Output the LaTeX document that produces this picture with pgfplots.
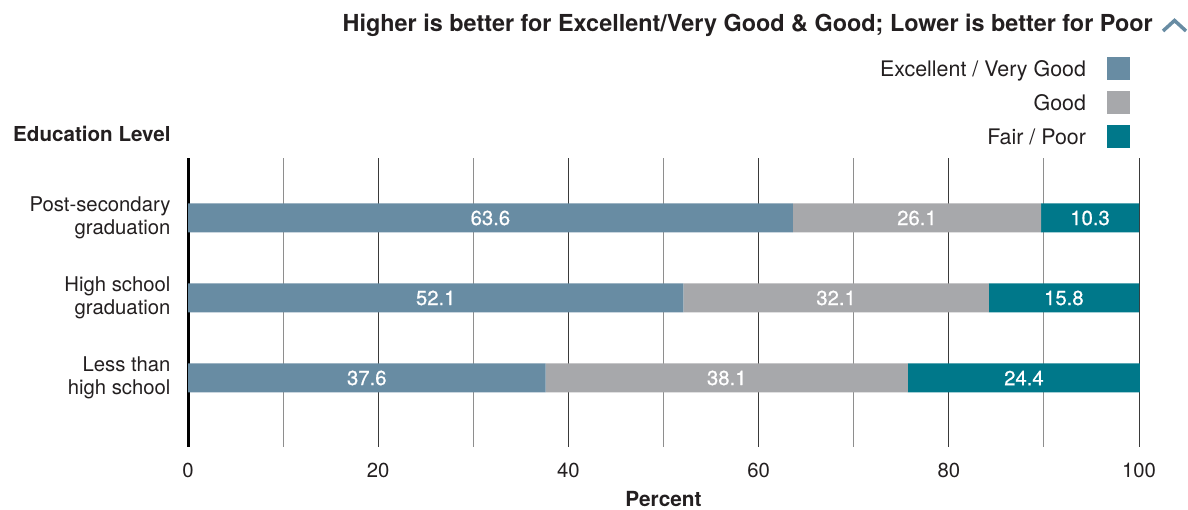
\documentclass[border=0pt]{standalone}
\usepackage{fontspec}
\setmainfont{TeX Gyre Heros}
\usepackage{pgfplots}
\usepackage{pgfplotstable}
\pgfplotsset{compat=1.18}

\definecolor{exc}{HTML}{688CA3}
\definecolor{good}{HTML}{A7A8AB}
\definecolor{poor}{HTML}{00788A}
\definecolor{txt}{HTML}{231F20}
\definecolor{gridmaj}{HTML}{3A3A3A}
\definecolor{gridmin}{HTML}{8E8E8E}

% self-rated health by education level (percent)
\pgfplotstableread{
c ex go po
0 37.6 38.1 24.4
1 52.1 32.1 15.8
2 63.6 26.1 10.3
}\healthdata

\begin{document}
\begin{tikzpicture}[x=1pt,y=1pt]
\useasboundingbox (0,0) rectangle (1188,510);

% heading and collapse chevron
\node[anchor=base east, inner sep=0pt, text=txt,
      font=\fontsize{23.4}{27}\selectfont\bfseries]
  at (1153,478) {Higher is better for Excellent/Very Good \& Good; Lower is better for Poor};
\draw[exc, line width=3.5pt, line cap=butt, line join=miter]
  (1163,479) -- (1174.5,489.5) -- (1186,479);

% group heading for the categories
\node[anchor=base west, inner sep=0pt, text=txt,
      font=\fontsize{20.6}{24}\selectfont\bfseries]
  at (13,368) {Education Level};

\begin{axis}[
  at={(188pt,63pt)}, anchor=south west,
  scale only axis, width=951pt, height=289pt,
  xbar stacked, bar width=29pt,
  xmin=0, xmax=100, ymin=-0.8625, ymax=2.75,
  xtick={0,20,...,100}, minor xtick={10,30,...,90},
  xmajorgrids, xminorgrids,
  major grid style={draw=gridmaj, line width=1pt},
  minor grid style={draw=gridmin, line width=1pt},
  major tick length=0pt, minor tick length=0pt,
  tick style={draw=none},
  axis line style={draw=none},
  ytick={0,1,2},
  yticklabels={Less than\\high school, High school\\graduation, Post-secondary\\graduation},
  yticklabel style={align=right, text=txt, xshift=-14pt,
    font=\fontsize{20.3}{22.5}\selectfont},
  xticklabel style={anchor=base, yshift=-31pt, text=txt,
    font=\fontsize{20.3}{24}\selectfont},
  /pgf/number format/assume math mode=true,
  xlabel={Percent},
  xlabel style={at={(axis description cs:0.5,0)}, anchor=base, yshift=-59.5pt,
    text=txt, font=\fontsize{20.8}{24}\selectfont\bfseries},
  nodes near coords={\pgfmathprintnumber[fixed,fixed zerofill,precision=1]{\pgfplotspointmeta}},
  every node near coord/.append style={text=white,
    font=\fontsize{20.3}{24}\selectfont\addfontfeature{FakeBold=0.6}},
  point meta=explicit,
  legend plot pos=right,
  legend cell align=right,
  legend image code/.code={\fill[#1] (0pt,-11.5pt) rectangle (23pt,11.5pt);},
  legend style={draw=none, fill=none, inner sep=0pt, outer sep=0pt,
    at={(0.9905,1.3495)}, anchor=north east,
    row sep=11pt, column sep=21pt, text=txt,
    font=\fontsize{21.4}{25}\selectfont,
    nodes={inner sep=0pt, text height=15.4pt, text depth=0pt}},
  clip=false,
]
\addplot[fill=exc, draw=none] table[x=ex, y=c, meta=ex] {\healthdata};
\addlegendentry{Excellent / Very Good}
\addplot[fill=good, draw=none] table[x=go, y=c, meta=go] {\healthdata};
\addlegendentry{Good}
\addplot[fill=poor, draw=none] table[x=po, y=c, meta=po] {\healthdata};
\addlegendentry{Fair / Poor}
\draw[black, line width=3pt] (axis cs:0,-0.8625) -- (axis cs:0,2.75);
\end{axis}
\end{tikzpicture}
\end{document}
